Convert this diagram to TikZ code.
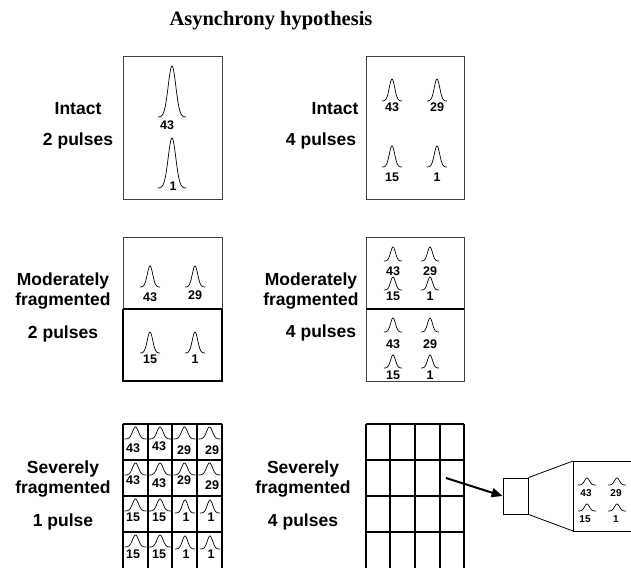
\documentclass[tikz,border=0pt]{standalone}
\usepackage{fontspec}
\setmainfont{Liberation Serif}
\newfontfamily\labfont{Liberation Sans}
\usetikzlibrary{arrows.meta}
\newcommand{\gpulse}[4]{\draw[pulseline] plot[domain=-1:1,samples=41,smooth] ({#1+#3*\x},{#2-#4*exp(-(2.6*\x)*(2.6*\x))});}
\tikzset{
  boxline/.style={draw=black!75, line width=0.9pt},
  gridline/.style={draw=black, line width=1.1pt},
  pulseline/.style={draw=black, line width=0.7pt},
  cond/.style={font=\labfont\bfseries\fontsize{17.5}{20}\selectfont, align=center, inner sep=0pt},
  num/.style={font=\labfont\bfseries\fontsize{12.5}{13}\selectfont, inner sep=0pt},
  snum/.style={font=\labfont\bfseries\fontsize{10}{10}\selectfont, inner sep=0pt},
}
\begin{document}
\begin{tikzpicture}[x=1pt,y=-1pt]
\useasboundingbox (0,0) rectangle (631,567);
\node[font=\bfseries\fontsize{20.5}{22}\selectfont, inner sep=0pt] (title) at (271,21) {Asynchrony hypothesis};

% Row 1
\node[cond] (l1a) at (78,109) {Intact};
\node[cond] (l1b) at (78,141) {2 pulses};
\draw[boxline] (123,56) rectangle (222,199);
\gpulse{172}{117}{14}{51}
\gpulse{172}{188}{14}{50}
\node[num] (n1a) at (167,125) {43};
\node[num] (n1b) at (173,186) {1};

\node[cond] (l2a) at (335,109) {Intact};
\node[cond] (l2b) at (321,141) {4 pulses};
\draw[boxline] (366,56) rectangle (464,199);
\gpulse{392}{101}{10}{22}
\gpulse{437}{101}{10}{22}
\gpulse{392}{167}{10}{21}
\gpulse{437}{167}{10}{21}
\node[num] (n2a) at (392,107) {43};
\node[num] (n2b) at (437,107) {29};
\node[num] (n2c) at (392,177) {15};
\node[num] (n2d) at (437,177) {1};

% Row 2
\node[cond] (l3a) at (63,291) {Moderately\\fragmented};
\node[cond] (l3b) at (63,334) {2 pulses};
\draw[boxline] (123,237) rectangle (222,381);
\draw[gridline] (123,309) -- (222,309);
\draw[gridline] (123,309) -- (123,381) -- (222,381) -- (222,309);
\gpulse{150}{287}{10}{21}
\gpulse{195}{287}{10}{21}
\gpulse{150}{353}{10}{21}
\gpulse{195}{353}{10}{21}
\node[num] (n3a) at (150,297) {43};
\node[num] (n3b) at (195,295) {29};
\node[num] (n3c) at (150,359) {15};
\node[num] (n3d) at (195,359) {1};

\node[cond] (l4a) at (311,291) {Moderately\\fragmented};
\node[cond] (l4b) at (321,333) {4 pulses};
\draw[boxline] (366,237) rectangle (464,381);
\draw[gridline] (366,309) -- (464,309);
\foreach \cx in {393,430}{
  \gpulse{\cx}{261}{9}{14}
  \gpulse{\cx}{290}{9}{13}
  \gpulse{\cx}{332}{9}{14}
  \gpulse{\cx}{368}{9}{13}
}
\node[num] (n4a) at (393,271) {43};
\node[num] (n4b) at (430,271) {29};
\node[num] (n4c) at (393,296) {15};
\node[num] (n4d) at (430,296) {1};
\node[num] (n4e) at (393,344) {43};
\node[num] (n4f) at (430,344) {29};
\node[num] (n4g) at (393,375) {15};
\node[num] (n4h) at (430,375) {1};

% Row 3
\node[cond] (l5a) at (63,479) {Severely\\fragmented};
\node[cond] (l5b) at (63,522) {1 pulse};
\foreach \gx in {123,148,172,197,222}{ \draw[gridline] (\gx,424) -- (\gx,570); }
\foreach \gy in {424,460,496,532}{ \draw[gridline] (123,\gy) -- (222,\gy); }
\foreach \gy in {424,460}{
  \foreach \cx in {135.5,160,184.5,209.5}{
    \gpulse{\cx}{\gy+15}{11}{12}
  }
}
\foreach \gy in {496,532}{
  \foreach \cx in {135.5,160}{
    \gpulse{\cx}{\gy+15}{11}{12}
  }
  \foreach \cx in {185,210}{
    \gpulse{\cx}{\gy+17}{10}{13}
  }
}
\node[num] (g11) at (133,448) {43};
\node[num] (g12) at (159,446) {43};
\node[num] (g13) at (184,450) {29};
\node[num] (g14) at (212,450) {29};
\node[num] (g21) at (133,480) {43};
\node[num] (g22) at (159,483) {43};
\node[num] (g23) at (184,480) {29};
\node[num] (g24) at (212,485) {29};
\node[num] (g31) at (133,517) {15};
\node[num] (g32) at (159,517) {15};
\node[num] (g33) at (186,517) {1};
\node[num] (g34) at (211,517) {1};
\node[num] (g41) at (133,554) {15};
\node[num] (g42) at (159,554) {15};
\node[num] (g43) at (186,554) {1};
\node[num] (g44) at (211,554) {1};

\node[cond] (l6a) at (303,479) {Severely\\fragmented};
\node[cond] (l6b) at (303,522) {4 pulses};
\foreach \gx in {366,390,415,440,464}{ \draw[gridline] (\gx,424) -- (\gx,570); }
\foreach \gy in {424,460,496,532}{ \draw[gridline] (366,\gy) -- (464,\gy); }

% Zoom
\coordinate (astart) at (446,478);
\node[draw, line width=0.8pt, minimum width=25pt, minimum height=36pt, inner sep=0pt] (sbox) at (515.5,496) {};
\draw[line width=2pt, -{Triangle[length=11pt,width=9pt]}] (astart) -- (sbox.west);
\coordinate (bt) at (573,461);
\coordinate (bb) at (573,531);
\draw[line width=0.8pt] (sbox.north east) -- (bt);
\draw[line width=0.8pt] (sbox.south east) -- (bb);
\draw[line width=0.8pt] (640,461) -- (bt) -- (bb) -- (640,531);
\gpulse{587}{485}{9}{7}
\gpulse{617}{485}{9}{7}
\gpulse{587}{511}{9}{7}
\gpulse{617}{511}{9}{7}
\node[snum] (z1) at (586,493) {43};
\node[snum] (z2) at (616,493) {29};
\node[snum] (z3) at (585,519) {15};
\node[snum] (z4) at (616,519) {1};
\end{tikzpicture}
\end{document}
